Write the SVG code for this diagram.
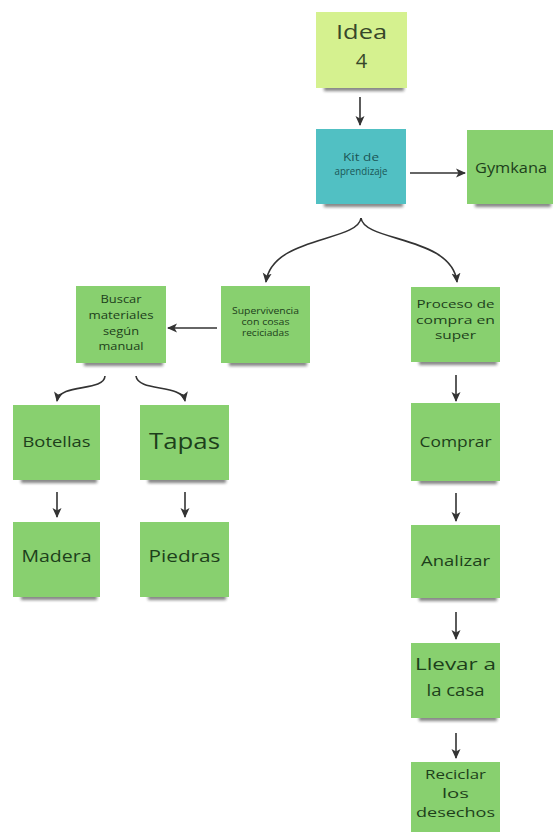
<svg xmlns="http://www.w3.org/2000/svg" width="553" height="832" viewBox="0 0 553 832">
  <style>
    .note { fill: #88d06f; }
    .idea { fill: #d5f18f; }
    .kit { fill: #51c0c3; }
    .shadow { fill: #1a1a1a; opacity: 0.55; filter: url(#soft); }
    text { font-family: "Open Sans", "DejaVu Sans", sans-serif; text-anchor: middle; fill: #1d3f1b; }
    .kt { fill: #1b5656; }
    .it { fill: #37472a; }
    .link { fill: none; stroke: #333; stroke-width: 1.6; marker-end: url(#head); }
  </style>
  <defs>
    <filter id="soft" x="-20%" y="-150%" width="140%" height="400%">
      <feGaussianBlur stdDeviation="1.8"/>
    </filter>
    <marker id="head" viewBox="0 0 10 10" refX="9" refY="5" markerWidth="10" markerHeight="10" markerUnits="userSpaceOnUse" orient="auto">
      <path d="M0,0.5 L10,5 L0,9.5 L2.5,5 z" fill="#333"/>
    </marker>
  </defs>
  <rect width="553" height="832" fill="#fff"/>

  <!-- connectors -->
  <g id="connectors">
    <path class="link" d="M360,97 L360,125"/>
    <path class="link" d="M410,173 L465,173"/>
    <path class="link" d="M361,218 C358,242 272,236 266,282"/>
    <path class="link" d="M361,218 C364,242 452,236 457,282"/>
    <path class="link" d="M217,328 L168,328"/>
    <path class="link" d="M105,376 C104,392 60,383 57,401"/>
    <path class="link" d="M136,376 C138,392 182,384 185,401"/>
    <path class="link" d="M57,492 L57,517"/>
    <path class="link" d="M185,492 L185,517"/>
    <path class="link" d="M456,375 L456,401"/>
    <path class="link" d="M456,493 L456,521"/>
    <path class="link" d="M456,612 L456,639"/>
    <path class="link" d="M456,733 L456,758"/>
  </g>

  <!-- nodes: soft shadow strip under each note, then the note and its label -->
  <g id="idea4">
    <rect class="shadow" x="324" y="86" width="80" height="5"/>
    <rect class="idea" x="316" y="12" width="91" height="76"/>
    <text class="it" x="361.5" y="39" font-size="20" textLength="51" lengthAdjust="spacingAndGlyphs">Idea</text>
    <text class="it" x="361.5" y="68" font-size="20">4</text>
  </g>
  <g id="kit">
    <rect class="shadow" x="324" y="202" width="79" height="5"/>
    <rect class="kit" x="316" y="129" width="90" height="75"/>
    <text class="kt" x="361" y="161" font-size="10.5" textLength="36" lengthAdjust="spacingAndGlyphs">Kit de</text>
    <text class="kt" x="361" y="175" font-size="10.5" textLength="53" lengthAdjust="spacingAndGlyphs">aprendizaje</text>
  </g>
  <g id="gymkana">
    <rect class="shadow" x="475" y="202" width="76" height="5"/>
    <rect class="note" x="467" y="130" width="86" height="74"/>
    <text x="511" y="173" font-size="14" textLength="72" lengthAdjust="spacingAndGlyphs">Gymkana</text>
  </g>
  <g id="supervivencia">
    <rect class="shadow" x="229" y="361" width="78" height="5"/>
    <rect class="note" x="221" y="286" width="89" height="77"/>
    <text x="265.5" y="314" font-size="8.5" textLength="67" lengthAdjust="spacingAndGlyphs">Supervivencia</text>
    <text x="265.5" y="325" font-size="8.5" textLength="48" lengthAdjust="spacingAndGlyphs">con cosas</text>
    <text x="265.5" y="336" font-size="8.5" textLength="47" lengthAdjust="spacingAndGlyphs">reciciadas</text>
  </g>
  <g id="buscar">
    <rect class="shadow" x="84" y="361" width="79" height="5"/>
    <rect class="note" x="76" y="286" width="90" height="77"/>
    <text x="121" y="303" font-size="11.5" textLength="41" lengthAdjust="spacingAndGlyphs">Buscar</text>
    <text x="121" y="319" font-size="11.5" textLength="65" lengthAdjust="spacingAndGlyphs">materiales</text>
    <text x="121" y="335" font-size="11.5" textLength="36" lengthAdjust="spacingAndGlyphs">según</text>
    <text x="121" y="350" font-size="11.5" textLength="45" lengthAdjust="spacingAndGlyphs">manual</text>
  </g>
  <g id="proceso">
    <rect class="shadow" x="419" y="360" width="78" height="5"/>
    <rect class="note" x="411" y="287" width="89" height="75"/>
    <text x="455.5" y="308" font-size="11.5" textLength="78" lengthAdjust="spacingAndGlyphs">Proceso de</text>
    <text x="455.5" y="323.5" font-size="11.5" textLength="79" lengthAdjust="spacingAndGlyphs">compra en</text>
    <text x="455.5" y="339" font-size="11.5" textLength="41" lengthAdjust="spacingAndGlyphs">super</text>
  </g>
  <g id="comprar">
    <rect class="shadow" x="419" y="479" width="78" height="5"/>
    <rect class="note" x="411" y="403" width="89" height="78"/>
    <text x="455.5" y="447" font-size="15" textLength="72" lengthAdjust="spacingAndGlyphs">Comprar</text>
  </g>
  <g id="analizar">
    <rect class="shadow" x="419" y="596" width="78" height="5"/>
    <rect class="note" x="411" y="525" width="89" height="73"/>
    <text x="455.5" y="566" font-size="15" textLength="69" lengthAdjust="spacingAndGlyphs">Analizar</text>
  </g>
  <g id="llevar">
    <rect class="shadow" x="419" y="716" width="78" height="5"/>
    <rect class="note" x="411" y="643" width="89" height="75"/>
    <text x="455.5" y="670" font-size="17" textLength="81" lengthAdjust="spacingAndGlyphs">Llevar a</text>
    <text x="455.5" y="696" font-size="17" textLength="58" lengthAdjust="spacingAndGlyphs">la casa</text>
  </g>
  <g id="reciclar">
    <rect class="note" x="411" y="762" width="89" height="75"/>
    <text x="455.5" y="779" font-size="13" textLength="61" lengthAdjust="spacingAndGlyphs">Reciclar</text>
    <text x="455.5" y="798" font-size="13" textLength="27" lengthAdjust="spacingAndGlyphs">los</text>
    <text x="455.5" y="817" font-size="13" textLength="79" lengthAdjust="spacingAndGlyphs">desechos</text>
  </g>
  <g id="botellas">
    <rect class="shadow" x="21" y="478" width="76" height="5"/>
    <rect class="note" x="13" y="405" width="87" height="75"/>
    <text x="56.5" y="447" font-size="15" textLength="68" lengthAdjust="spacingAndGlyphs">Botellas</text>
  </g>
  <g id="tapas">
    <rect class="shadow" x="148" y="478" width="78" height="5"/>
    <rect class="note" x="140" y="405" width="89" height="75"/>
    <text x="184.5" y="449" font-size="22" textLength="71" lengthAdjust="spacingAndGlyphs">Tapas</text>
  </g>
  <g id="madera">
    <rect class="shadow" x="21" y="595" width="76" height="5"/>
    <rect class="note" x="13" y="522" width="87" height="75"/>
    <text x="56.5" y="562" font-size="17" textLength="70" lengthAdjust="spacingAndGlyphs">Madera</text>
  </g>
  <g id="piedras">
    <rect class="shadow" x="148" y="595" width="78" height="5"/>
    <rect class="note" x="140" y="522" width="89" height="75"/>
    <text x="184.5" y="562" font-size="17" textLength="72" lengthAdjust="spacingAndGlyphs">Piedras</text>
  </g>
</svg>
